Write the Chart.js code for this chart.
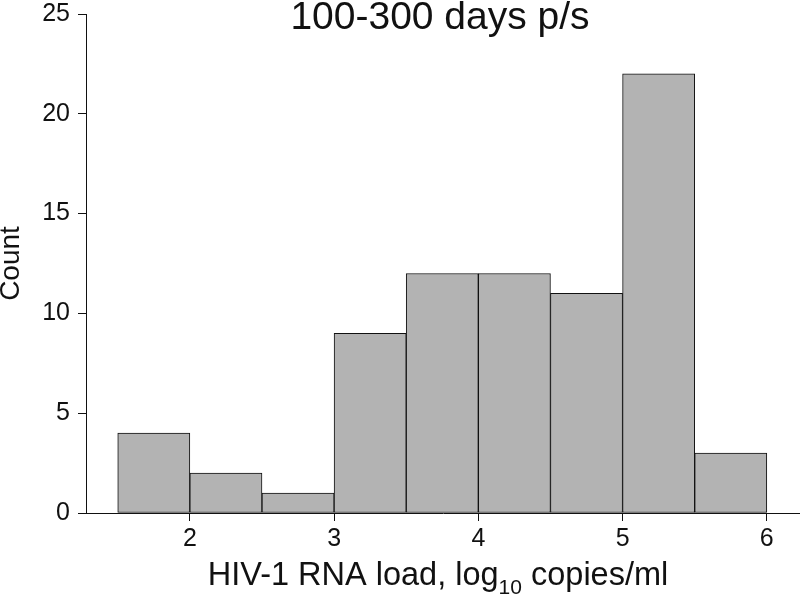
<!DOCTYPE html>
<html>
<head>
<meta charset="utf-8">
<script src="https://cdn.jsdelivr.net/npm/chart.js@4.4.0/dist/chart.umd.min.js"></script>
<style>
  html, body { margin: 0; padding: 0; background: #fff; }
  #wrap { width: 800px; height: 599px; position: relative; }
</style>
</head>
<body>
<div id="wrap"><canvas id="hist"></canvas></div>
<script>
"use strict";
// histogram bins (log10 copies/ml), width 0.5
var binStarts = [1.5, 2.0, 2.5, 3.0, 3.5, 4.0, 4.5, 5.0, 5.5];
var binWidth = 0.5;
var counts = [4, 2, 1, 9, 12, 12, 11, 22, 3];
var xTickValues = [2, 3, 4, 5, 6];
var yTickValues = [0, 5, 10, 15, 20, 25];
var chartTitle = "100-300 days p/s";
var xTitleMain = "HIV-1 RNA load, log";
var xTitleSub = "10";
var xTitleEnd = " copies/ml";
var yTitle = "Count";

var FONT = "'Liberation Sans', Arial, sans-serif";
var INK = "#111";

var points = binStarts.map(function(s, i) {
    return { x: s + binWidth / 2, y: counts[i] };
});

// title + x axis title with subscript
var textPlugin = {
    id: "texts",
    afterDraw: function(chart) {
        var c = chart.ctx;
        c.save();
        c.fillStyle = INK;
        c.textBaseline = "alphabetic";
        c.textAlign = "center";
        c.font = "39px " + FONT;
        c.fillText(chartTitle, 440, 29);

        c.textAlign = "left";
        c.font = "32.5px " + FONT;
        var w1 = c.measureText(xTitleMain).width;
        var w3 = c.measureText(xTitleEnd).width;
        c.font = "21px " + FONT;
        var w2 = c.measureText(xTitleSub).width;
        var x0 = 438 - (w1 + w2 + w3) / 2;
        c.font = "32.5px " + FONT;
        c.fillText(xTitleMain, x0, 585);
        c.fillText(xTitleEnd, x0 + w1 + w2, 585);
        c.font = "21px " + FONT;
        c.fillText(xTitleSub, x0 + w1, 594);
        c.restore();
    }
};

new Chart(document.getElementById("hist").getContext("2d"), {
    type: "bar",
    data: {
        datasets: [{
            data: points,
            backgroundColor: "#b3b3b3",
            borderColor: "#111",
            borderWidth: 1,
            borderSkipped: false,
            barPercentage: 1,
            categoryPercentage: 1
        }]
    },
    options: {
        responsive: true,
        maintainAspectRatio: false,
        animation: false,
        layout: { padding: { top: 14, left: 0, right: 0, bottom: 0 } },
        plugins: {
            legend: { display: false },
            tooltip: { enabled: false }
        },
        scales: {
            x: {
                type: "linear",
                min: 1.28,
                max: 6.23,
                offset: false,
                afterBuildTicks: function(s) {
                    s.ticks = xTickValues.map(function(v) { return { value: v }; });
                },
                afterFit: function(s) {
                    s.height = 86;
                    s.paddingLeft = 0;
                    s.paddingRight = 0;
                },
                grid: { display: true, offset: false, drawOnChartArea: false, drawTicks: true, tickLength: 8, color: INK },
                border: { display: true, color: INK, width: 1 },
                ticks: { color: INK, font: { family: FONT, size: 25 }, padding: 3, maxRotation: 0 }
            },
            y: {
                min: 0,
                max: 25,
                afterBuildTicks: function(s) {
                    s.ticks = yTickValues.map(function(v) { return { value: v }; });
                },
                afterFit: function(s) {
                    s.width = 86;
                    s.paddingTop = 0;
                    s.paddingBottom = 0;
                },
                grid: { display: true, drawOnChartArea: false, drawTicks: true, tickLength: 8, color: INK },
                border: { display: true, color: INK, width: 1 },
                ticks: { color: INK, font: { family: FONT, size: 25 }, padding: 8 },
                title: {
                    display: true,
                    text: yTitle,
                    color: INK,
                    padding: 0,
                    font: { family: FONT, size: 28, lineHeight: 0.82 }
                }
            }
        }
    },
    plugins: [textPlugin]
});
</script>
</body>
</html>
